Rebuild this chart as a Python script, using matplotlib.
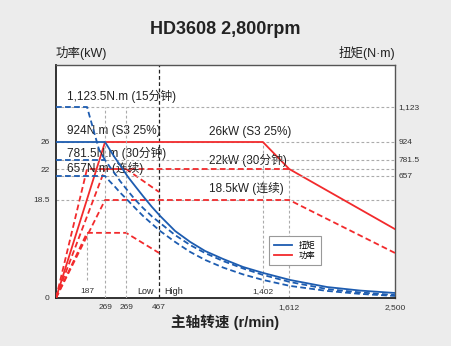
import numpy as np
import matplotlib
matplotlib.use('Agg')
import matplotlib.pyplot as plt
from matplotlib.lines import Line2D
from matplotlib.transforms import blended_transform_factory

plt.rcParams['font.family'] = ['Liberation Sans', 'Noto Sans CJK SC', 'DejaVu Sans']

# torque curves (rpm, N.m)
speed_t = [0, 269, 287, 306, 324, 353, 379, 408, 441, 476, 611, 747, 882,
           1044, 1224, 1404, 1620, 1931, 2208, 2500]
torque_s3 = [924, 924, 861, 797, 742, 652, 603, 549, 490, 442, 361, 302, 253,
             210, 167, 135, 97, 59, 40, 27]
torque_30 = [781.5, 781.5, 727, 673, 630, 576, 530, 485, 439, 404, 339, 285, 242,
             199, 159, 124, 86, 48, 30, 16]
torque_cont = [657, 657, 627, 598, 568, 525, 485, 442, 399, 361, 302, 248, 205,
               164, 127, 97, 65, 38, 22, 11]
speed_t15 = [0, 187, 242, 269]
torque_15 = [1123.5, 1123.5, 861, 781.5]

# power curves (rpm, kW)
speed_p_s3 = [0, 269, 1402, 1612, 2500]
power_s3 = [0, 26, 26, 22, 13]
speed_p_30 = [0, 269, 1612]
power_30 = [0, 22, 22]
speed_p_cont = [0, 269, 1612, 2500]
power_cont = [0, 18.5, 18.5, 8.5]
speed_p_15low = [0, 187, 346, 467]
power_15low = [0, 22, 22, 19.4]
speed_p_low = [0, 187, 346, 467]
power_low = [0, 12.3, 12.3, 8.5]

x_ticks = [269, 346, 467, 1612, 2500]
x_ticklabels = ['269', '269', '467', '1,612', '2,500']
p_ticks = [0, 18.5, 22, 26]
p_ticklabels = ['0', '18.5', '22', '26']
t_ticks = [657, 781.5, 924, 1123.5]
t_ticklabels = ['657', '781.5', '924', '1,123']

# schematic (piecewise) scales
x_br = [0, 187, 269, 467, 1402, 1612, 2500]
x_pos = [0, 31, 49, 103, 206.7, 233, 338.7]
p_br = [0, 18.5, 22, 26, 37.4]
p_pos = [0, 98, 129, 156, 233]
t_br = [0, 657, 781.5, 924, 1123.5, 1362]
t_pos = [0, 122, 138, 156, 191, 233]

def piecewise(br, pos):
    fwd = lambda v: np.interp(v, br, pos)
    inv = lambda v: np.interp(v, pos, br)
    return fwd, inv

RED = '#f22a2c'
BLUE = '#1d5cb0'
GRID = '#ababab'

fig = plt.figure(figsize=(4.51, 3.46), dpi=100, facecolor='#ececec')
ax = fig.add_axes([56/451, 48/346, 339/451, 233/346])
ax.set_facecolor('white')
ax.set_xscale('function', functions=piecewise(x_br, x_pos))
ax.set_yscale('function', functions=piecewise(p_br, p_pos))
ax.set_xlim(0, 2500)
ax.set_ylim(0, 37.4)
ax2 = ax.twinx()
ax2.set_yscale('function', functions=piecewise(t_br, t_pos))
ax2.set_ylim(0, 1362)

# guide lines
for v in [18.5, 22, 26]:
    ax.axhline(v, color=GRID, lw=0.8, dashes=(2.5, 2), zorder=1)
for v in [657, 781.5, 1123.5]:
    ax2.axhline(v, color=GRID, lw=0.8, dashes=(2.5, 2), zorder=0)
ax.vlines(187, 3.4, 12.3, color=GRID, lw=0.8, linestyles=(0, (2.5, 2)), zorder=1)
ax.vlines(1402, 1.9, 26, color=GRID, lw=0.8, linestyles=(0, (2.5, 2)), zorder=1)
ax.vlines(1612, 0, 22, color=GRID, lw=0.8, linestyles=(0, (2.5, 2)), zorder=1)
ax2.vlines([269, 346], 0, 1123.5, color=GRID, lw=0.8, linestyles=(0, (2.5, 2)), zorder=0)
ax.axvline(467, color='#222222', lw=0.9, dashes=(3, 2), zorder=1)

# power
ax.plot(speed_p_s3, power_s3, color=RED, lw=1.3, zorder=3)
for sx, py in [(speed_p_30, power_30), (speed_p_cont, power_cont),
               (speed_p_15low, power_15low), (speed_p_low, power_low)]:
    ax.plot(sx, py, color=RED, lw=1.3, dashes=(3.2, 1.8), zorder=3)

# torque
ax2.plot(speed_t, torque_s3, color=BLUE, lw=1.3, zorder=3)
for sx, ty in [(speed_t, torque_30), (speed_t, torque_cont), (speed_t15, torque_15)]:
    ax2.plot(sx, ty, color=BLUE, lw=1.3, dashes=(3.2, 1.8), zorder=3)

# ticks
ax.set_xticks(x_ticks)
ax.set_xticklabels(x_ticklabels)
ax.set_yticks(p_ticks)
ax.set_yticklabels(p_ticklabels)
ax2.set_yticks(t_ticks)
ax2.set_yticklabels(t_ticklabels)
ax.xaxis.set_minor_locator(matplotlib.ticker.NullLocator())
ax.yaxis.set_minor_locator(matplotlib.ticker.NullLocator())
ax2.yaxis.set_minor_locator(matplotlib.ticker.NullLocator())
ax.tick_params(axis='x', length=0, pad=4, labelsize=6, labelcolor='#333333')
ax.tick_params(axis='y', length=0, pad=4.5, labelsize=6, labelcolor='#333333')
ax2.tick_params(axis='y', length=0, pad=2.5, labelsize=6, labelcolor='#333333')

for s in ax2.spines.values():
    s.set_visible(False)
for k, s in ax.spines.items():
    s.set_color('#555555')
    s.set_linewidth(1.0)
ax.spines['left'].set_color('#222222')
ax.spines['bottom'].set_color('#222222')
ax.spines['left'].set_linewidth(1.3)
ax.spines['bottom'].set_linewidth(1.3)

# labels inside the chart
fs = 8.5
tc = '#222222'
ax.text(0.032, 0.863, '1,123.5N.m (15分钟)', transform=ax.transAxes, fontsize=fs, color=tc, va='center')
ax.text(0.032, 0.717, '924N.m (S3 25%)', transform=ax.transAxes, fontsize=fs, color=tc, va='center')
ax.text(0.032, 0.622, '781.5N.m (30分钟)', transform=ax.transAxes, fontsize=fs, color=tc, va='center')
ax.text(0.032, 0.554, '657N.m (连续)', transform=ax.transAxes, fontsize=fs, color=tc, va='center')
ax.text(0.451, 0.712, '26kW (S3 25%)', transform=ax.transAxes, fontsize=fs, color=tc, va='center')
ax.text(0.451, 0.592, '22kW (30分钟)', transform=ax.transAxes, fontsize=fs, color=tc, va='center')
ax.text(0.451, 0.468, '18.5kW (连续)', transform=ax.transAxes, fontsize=fs, color=tc, va='center')
ax.text(0.289, 0.026, 'Low', transform=ax.transAxes, fontsize=6.5, color=tc, va='center', ha='right')
ax.text(0.319, 0.026, 'High', transform=ax.transAxes, fontsize=6.5, color=tc, va='center', ha='left')
bt = blended_transform_factory(ax.transData, ax.transAxes)
ax.text(187, 0.026, '187', transform=bt, fontsize=6, color='#333333', va='center', ha='center')
ax.text(1402, 0.026, '1,402', transform=bt, fontsize=6, color='#333333', va='center', ha='center')

handles = [Line2D([], [], color=BLUE, lw=1.3), Line2D([], [], color=RED, lw=1.3)]
leg = ax2.legend(handles, ['扭矩', '功率'], loc='upper left', bbox_to_anchor=(0.628, 0.266),
                 borderaxespad=0, fontsize=6, handlelength=2.2, fancybox=False,
                 framealpha=1, edgecolor='#999999', labelspacing=0.3, borderpad=0.6)
leg.get_frame().set_linewidth(0.8)

fig.text(0.5, 1 - 30/346, 'HD3608 2,800rpm', ha='center', va='center', fontsize=13, fontweight='bold', color='#222222')
fig.text(56/451, 1 - 53/346, '功率(kW)', ha='left', va='center', fontsize=9, color='#222222')
fig.text(395/451, 1 - 53/346, '扭矩(N·m)', ha='right', va='center', fontsize=9, color='#222222')
fig.text(0.5, 1 - 322/346, '主轴转速 (r/min)', ha='center', va='center', fontsize=10.5, fontweight='bold', color='#222222')

fig.savefig('out.png', dpi=100, facecolor=fig.get_facecolor())
